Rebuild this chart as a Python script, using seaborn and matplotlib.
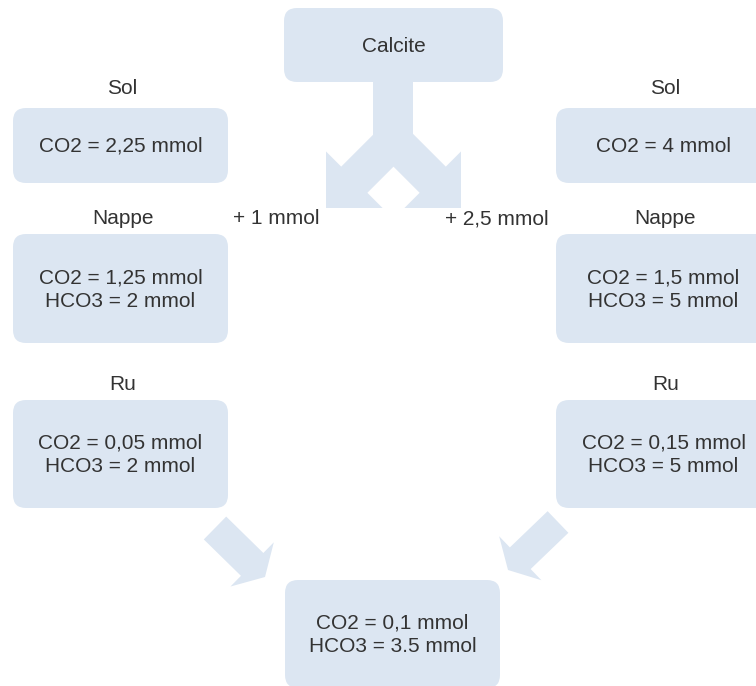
import matplotlib.pyplot as plt
import matplotlib.patches as mpatches
import seaborn as sns

#%%
# diagram content
source_label = "Calcite"
gain_labels = ["+ 1 mmol", "+ 2,5 mmol"]
level_names = ["Sol", "Nappe", "Ru"]
left_values = ["CO2 = 2,25 mmol",
               "CO2 = 1,25 mmol\nHCO3 = 2 mmol",
               "CO2 = 0,05 mmol\nHCO3 = 2 mmol"]
right_values = ["CO2 = 4 mmol",
                "CO2 = 1,5 mmol\nHCO3 = 5 mmol",
                "CO2 = 0,15 mmol\nHCO3 = 5 mmol"]
outlet_value = "CO2 = 0,1 mmol\nHCO3 = 3.5 mmol"

#%%
# layout in pixels (y goes down)
W, H = 756, 686
box_w = 215
col_x = [13, 556]
level_top = [108, 234, 400]
level_h = [75, 109, 108]
label_y = [88, 218, 385]

sns.set_theme(style="white")
plt.rcParams['font.family'] = ['Liberation Sans', 'DejaVu Sans']
box_color = sns.color_palette(["#dce6f2"])[0]
text_color = "#333333"
fs = 15

fig = plt.figure(figsize=(W / 100, H / 100), dpi=100)
ax = fig.add_axes([0, 0, 1, 1])
ax.set_xlim(0, W)
ax.set_ylim(H, 0)
ax.axis('off')


def box(x, y, w, h, text):
    ax.add_patch(mpatches.FancyBboxPatch((x, y), w, h, boxstyle="round,pad=0,rounding_size=13",
                                         fc=box_color, ec='none', zorder=2))
    ax.text(x + w / 2, y + h / 2 + 1, text, ha='center', va='center', fontsize=fs,
            color=text_color, linespacing=1.32, zorder=3)


# source box and split arrow
box(284, 8, 219, 74, source_label)
clip = mpatches.Rectangle((0, 0), W, 203, transform=ax.transData)
stem = mpatches.Rectangle((373, 70), 40, 70, fc=box_color, ec='none', zorder=1)
ax.add_patch(stem)
for sx, tx in [(400, 326), (387, 461)]:
    arr = mpatches.FancyArrow(sx, 134, tx - sx, 208 - 134, width=37, head_width=80,
                              head_length=40, length_includes_head=True,
                              fc=box_color, ec='none', zorder=1)
    arr.set_clip_path(clip)
    ax.add_patch(arr)

ax.text(276, 219, gain_labels[0], ha='center', va='center', fontsize=fs, color=text_color)
ax.text(497, 219, gain_labels[1], ha='center', va='center', fontsize=fs, color=text_color)

# compartments
for cx, values in zip(col_x, [left_values, right_values]):
    for name, val, top, h, ly in zip(level_names, values, level_top, level_h, label_y):
        ax.text(cx + box_w / 2 + 2, ly, name, ha='center', va='center', fontsize=fs,
                color=text_color)
        box(cx, top, box_w, h, val)

# outlet arrows and box
ax.add_patch(mpatches.FancyArrow(215, 528, 50, 49, width=32, head_width=62, head_length=18,
                                 length_includes_head=True, fc=box_color, ec='none', zorder=1))
ax.add_patch(mpatches.FancyArrow(558, 522, -50, 48, width=30, head_width=61, head_length=17,
                                 length_includes_head=True, fc=box_color, ec='none', zorder=1))
box(285, 580, 215, 108, outlet_value)

fig.savefig('out.png', dpi=100)
